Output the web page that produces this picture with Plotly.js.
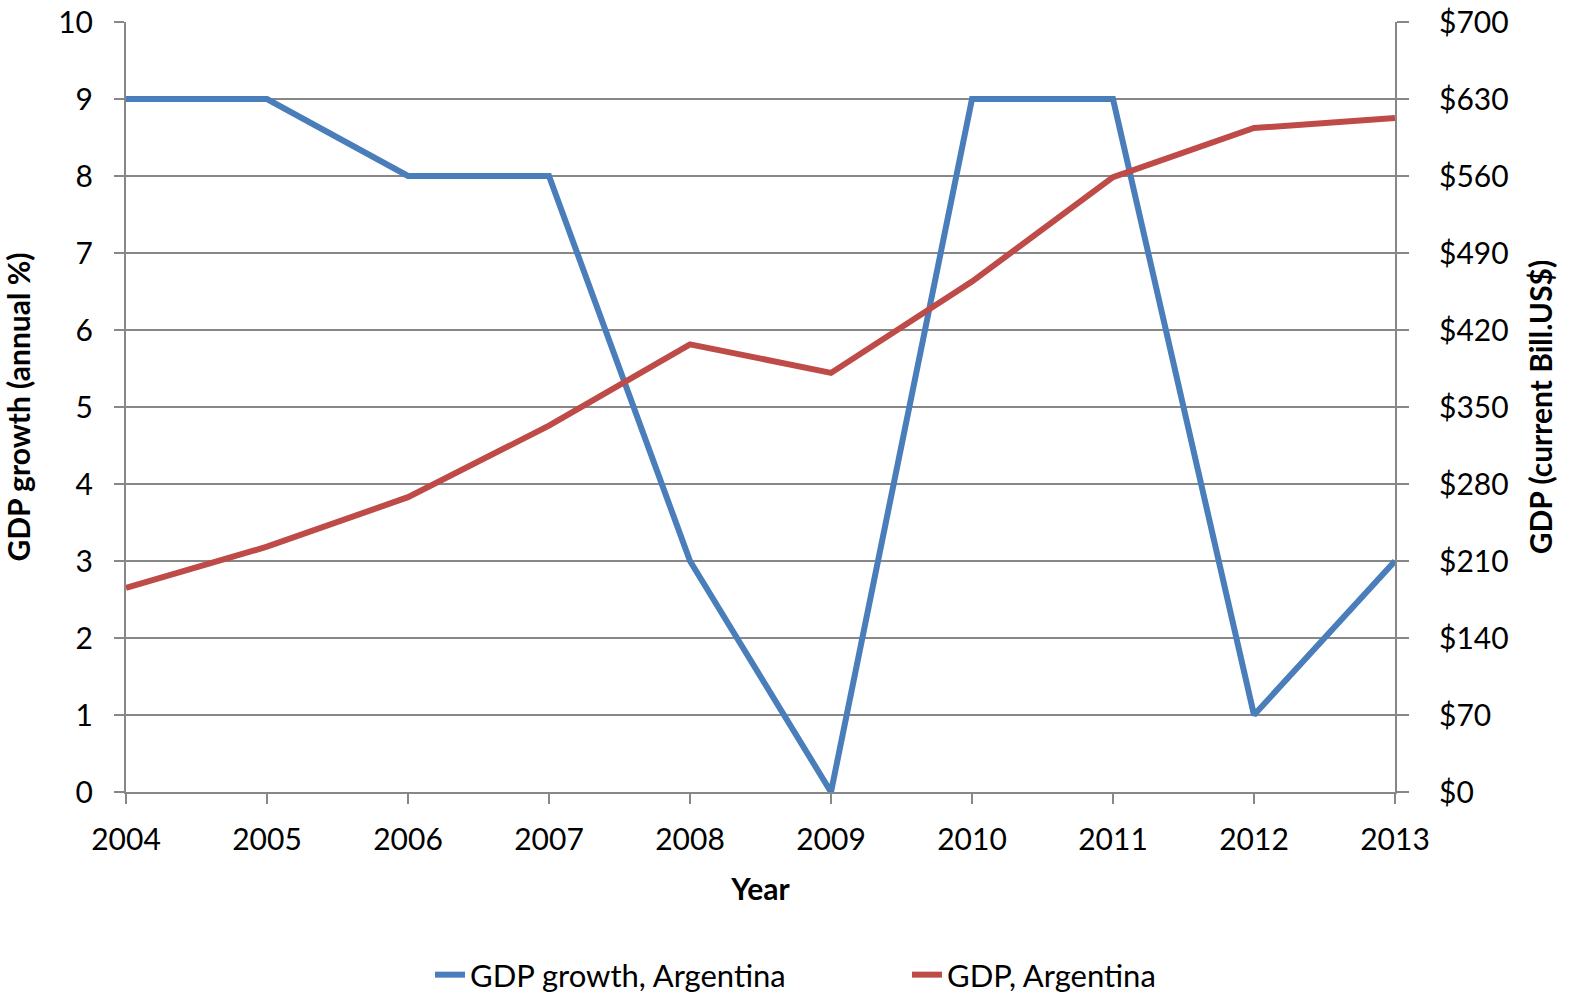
<!DOCTYPE html>
<html>
<head>
<meta charset="utf-8">
<script src="https://cdn.plot.ly/plotly-3.0.1.min.js"></script>
<style>html,body{margin:0;padding:0;background:#fff;}#chart{width:1571px;height:998px;}</style>
</head>
<body>
<div id="chart"></div>
<script>
const years = [2004, 2005, 2006, 2007, 2008, 2009, 2010, 2011, 2012, 2013];
const gdpGrowth = [9, 9, 8, 8, 3, 0, 9, 9, 1, 3];
const gdpBillions = [185.5, 223, 268, 333, 407, 381, 464, 559, 603.6, 612.7];
const leftTicks = [0, 1, 2, 3, 4, 5, 6, 7, 8, 9, 10];
const rightTicks = [0, 70, 140, 210, 280, 350, 420, 490, 560, 630, 700];
const rightTickLabels = rightTicks.map(v => '$' + v);

const FONT = 'Lato, "Open Sans", sans-serif';
const GRID = '#878787';

const traces = [
  {x: years, y: gdpGrowth, name: 'GDP growth, Argentina', type: 'scatter', mode: 'lines',
   line: {color: '#4A7EBB', width: 6}, yaxis: 'y'},
  {x: years, y: gdpBillions, name: 'GDP, Argentina', type: 'scatter', mode: 'lines',
   line: {color: '#BE4B48', width: 6}, yaxis: 'y2'}
];

const layout = {
  width: 1571, height: 998,
  paper_bgcolor: '#fff', plot_bgcolor: '#fff',
  margin: {l: 126, r: 176, t: 22, b: 206, autoexpand: false},
  font: {family: FONT, size: 30, color: '#000'},
  showlegend: true,
  legend: {orientation: 'h', x: (430 - 126) / 1269, xanchor: 'left', y: -(975 - 792) / 770, yanchor: 'middle',
           font: {family: FONT, size: 31}, entrywidth: 432, entrywidthmode: 'pixels'},
  xaxis: {
    range: [2004, 2013], tickvals: years, ticktext: years.map(String),
    ticks: 'outside', ticklen: 10, tickwidth: 2, tickcolor: GRID,
    showline: true, linecolor: GRID, linewidth: 2, showgrid: false, zeroline: false,
    ticklabelstandoff: 10,
    title: {text: '<b>Year</b>', font: {family: FONT, size: 30}, standoff: 24}
  },
  yaxis: {
    range: [0, 10], tickvals: leftTicks, ticks: 'outside', ticklen: 10, tickwidth: 2, tickcolor: GRID,
    showline: true, linecolor: GRID, linewidth: 2, showgrid: true, gridcolor: GRID, gridwidth: 2,
    zeroline: false, ticklabelstandoff: 15,
    title: {text: '<b>GDP growth (annual %)</b>', font: {family: FONT, size: 30}, standoff: 19}
  },
  yaxis2: {
    range: [0, 700], overlaying: 'y', side: 'right', tickvals: rightTicks, ticktext: rightTickLabels,
    ticks: 'outside', ticklen: 12, tickwidth: 2, tickcolor: GRID,
    showline: true, linecolor: GRID, linewidth: 2, showgrid: false, zeroline: false,
    ticklabelstandoff: 24,
    title: {text: '<b>GDP (current Bill.US$)</b>', font: {family: FONT, size: 30}, standoff: 23}
  }
};

Plotly.newPlot('chart', traces, layout, {displayModeBar: false});
</script>
</body>
</html>
